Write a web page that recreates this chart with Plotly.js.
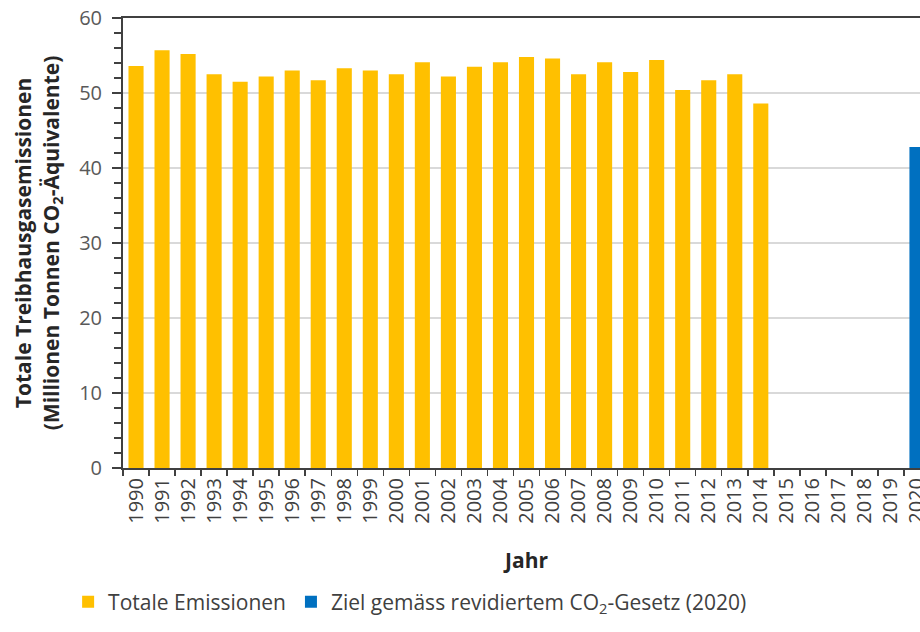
<!DOCTYPE html>
<html>
<head>
<meta charset="utf-8">
<script src="https://cdn.plot.ly/plotly-3.0.1.min.js"></script>
<style>
html, body { margin: 0; padding: 0; overflow: hidden; background: #fff; }
#chart { width: 940px; height: 632px; }
</style>
</head>
<body>
<div id="chart"></div>
<script>
const allYears = ['1990','1991','1992','1993','1994','1995','1996','1997','1998','1999','2000','2001','2002','2003','2004','2005','2006','2007','2008','2009','2010','2011','2012','2013','2014','2015','2016','2017','2018','2019','2020'];
const emissionYears = ['1990','1991','1992','1993','1994','1995','1996','1997','1998','1999','2000','2001','2002','2003','2004','2005','2006','2007','2008','2009','2010','2011','2012','2013','2014'];
const emissionValues = [53.6, 55.7, 55.2, 52.5, 51.5, 52.2, 53.0, 51.7, 53.3, 53.0, 52.5, 54.1, 52.2, 53.5, 54.1, 54.8, 54.6, 52.5, 54.1, 52.8, 54.4, 50.4, 51.7, 52.5, 48.6];
const targetYears = ['2020'];
const targetValues = [42.8];
const seriesNames = ['Totale Emissionen', 'Ziel gemäss revidiertem CO<sub>2</sub>-Gesetz (2020)'];

const FONT = 'Open Sans, Liberation Sans, sans-serif';

const traces = [
  { type: 'bar', x: emissionYears, y: emissionValues, name: seriesNames[0],
    marker: { color: '#FFC000' }, hoverinfo: 'x+y' },
  { type: 'bar', x: targetYears, y: targetValues, name: seriesNames[1],
    marker: { color: '#0070C0' }, hoverinfo: 'x+y' }
];

const layout = {
  width: 940, height: 632,
  margin: { l: 123, r: 10, t: 18, b: 159 },
  paper_bgcolor: '#fff', plot_bgcolor: '#fff',
  barmode: 'overlay',
  bargap: 0.42,
  font: { family: FONT, color: '#404040' },
  xaxis: {
    type: 'category',
    categoryorder: 'array',
    categoryarray: allYears,
    tickangle: -90,
    tickson: 'boundaries',
    ticks: 'outside', ticklen: 6, tickwidth: 1.5, tickcolor: '#404040',
    showline: true, linecolor: '#404040', linewidth: 2, mirror: true,
    showgrid: false,
    tickfont: { family: FONT, size: 20, color: '#404040' },
    title: { text: 'Jahr', font: { family: FONT, size: 21, color: '#262626', weight: 'bold' }, standoff: 31 },
    automargin: false
  },
  yaxis: {
    range: [0, 60],
    dtick: 10,
    ticks: 'outside', ticklen: 9, tickwidth: 1.5, tickcolor: '#404040',
    minor: { dtick: 2, ticks: 'outside', ticklen: 7, tickwidth: 1.5, tickcolor: '#404040', showgrid: false },
    showline: true, linecolor: '#404040', linewidth: 2,
    showgrid: true, gridcolor: '#d9d9d9', gridwidth: 1.5,
    zeroline: false,
    ticklabelstandoff: 6,
    tickfont: { family: FONT, size: 20, color: '#595959' },
    title: { text: 'Totale Treibhausgasemissionen<br>(Millionen Tonnen CO<sub>2</sub>-Äquivalente)',
             font: { family: FONT, size: 21, color: '#262626', weight: 'bold' }, standoff: 14 },
    automargin: 'left'
  },
  showlegend: true,
  legend: {
    orientation: 'h',
    x: -0.068, xanchor: 'left',
    y: -0.298, yanchor: 'middle',
    font: { family: FONT, size: 21, color: '#404040' },
    itemwidth: 20,
    tracegroupgap: 0
  }
};

Plotly.newPlot('chart', traces, layout, { displayModeBar: false, staticPlot: true });
</script>
</body>
</html>
